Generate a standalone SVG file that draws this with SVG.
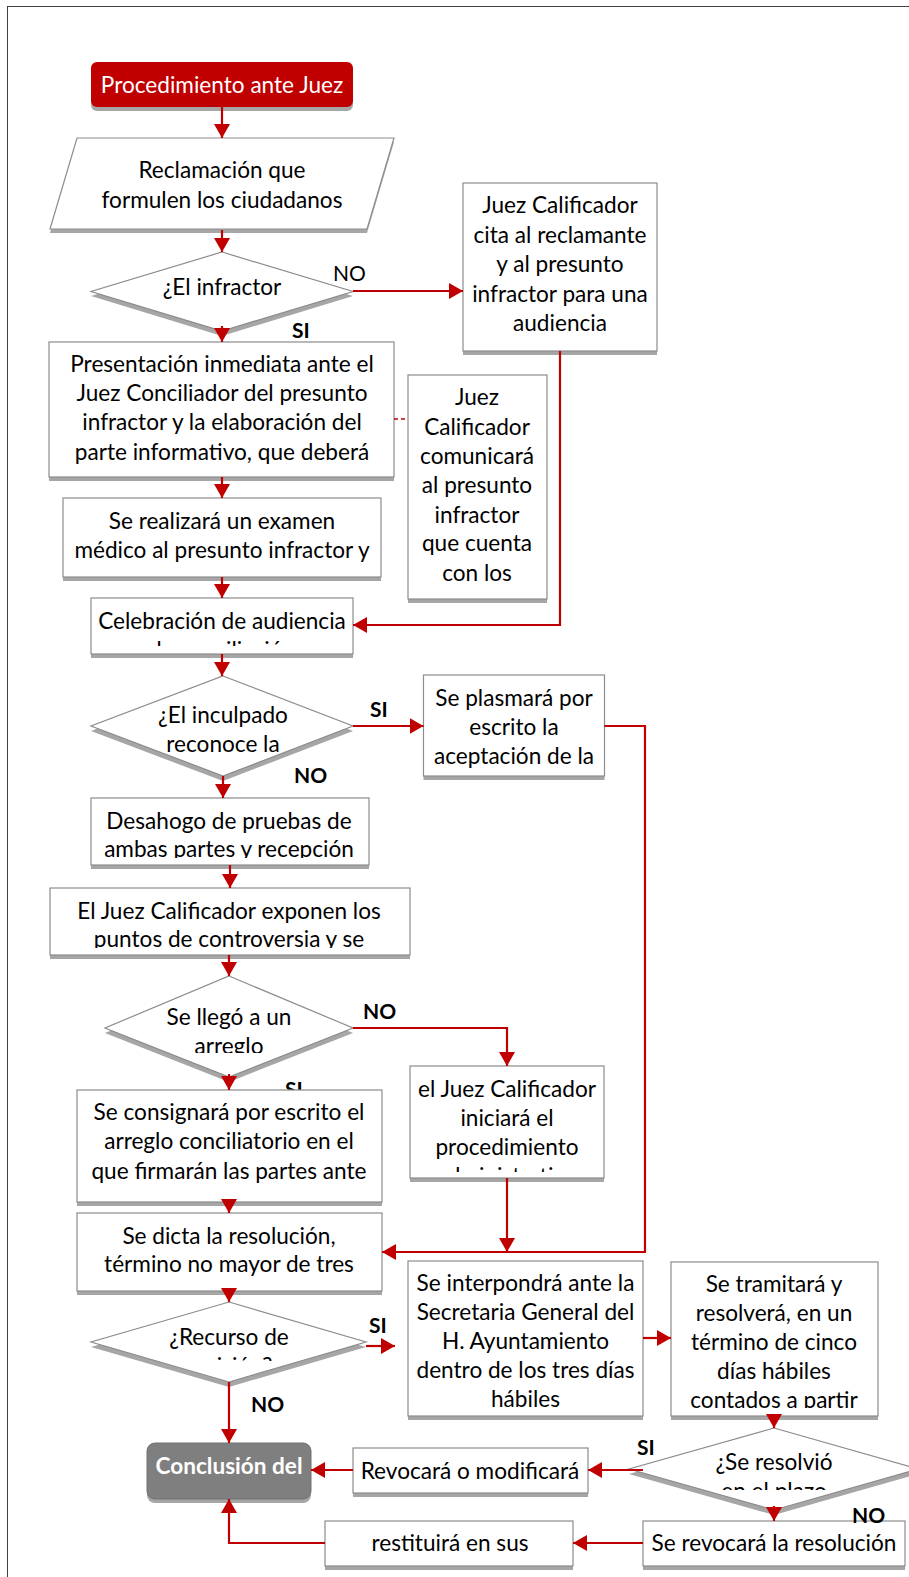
<svg xmlns="http://www.w3.org/2000/svg" width="909" height="1577" viewBox="0 0 909 1577">
  <style>
    .frame { fill: none; stroke: #404040; stroke-width: 1; }
    .shd { fill: #a6a6a6; }
    .box { fill: #ffffff; stroke: #8c8c8c; stroke-width: 1.2; }
    .t { font-family: Lato, "Liberation Sans", sans-serif; font-size: 22.6px; fill: #000; text-anchor: middle; }
    .tw { font-family: Lato, "Liberation Sans", sans-serif; font-size: 22.6px; fill: #ffffff; text-anchor: middle; }
    .lb { font-family: Lato, "Liberation Sans", sans-serif; font-size: 21px; font-weight: bold; fill: #000; }
    .lbn { font-family: Lato, "Liberation Sans", sans-serif; font-size: 21px; fill: #000; }
    .c { fill: none; stroke: #c00000; stroke-width: 2.2; marker-end: url(#ah); }
    .dash { fill: none; stroke: #c00000; stroke-width: 1.5; stroke-dasharray: 4 3; }
  </style>
  <defs>
    <marker id="ah" markerUnits="userSpaceOnUse" markerWidth="14" markerHeight="16" refX="14" refY="8" orient="auto">
      <path d="M0,0 L14,8 L0,16 z" fill="#c00000"/>
    </marker>
    <clipPath id="cpD2"><rect x="90" y="670" width="265" height="82"/></clipPath>
    <clipPath id="cpD3"><rect x="100" y="970" width="260" height="83"/></clipPath>
    <clipPath id="cpD4"><rect x="90" y="1300" width="280" height="61"/></clipPath>
    <clipPath id="cpD5"><rect x="628" y="1425" width="290" height="65"/></clipPath>
    <clipPath id="cpCel"><rect x="91" y="598" width="262" height="48"/></clipPath>
    <clipPath id="cpDes"><rect x="91" y="798" width="278" height="60"/></clipPath>
    <clipPath id="cpEJ"><rect x="50" y="888" width="360" height="60"/></clipPath>
    <clipPath id="cpIni"><rect x="410" y="1066" width="194" height="106"/></clipPath>
    <clipPath id="cpTra"><rect x="671" y="1262" width="207" height="146"/></clipPath>
    <clipPath id="cpSI3"><rect x="280" y="1070" width="40" height="20"/></clipPath>
  </defs>

  <!-- page frame -->
  <rect class="frame" x="7.5" y="6.5" width="930" height="1600"/>

  <!-- start -->
  <g id="start">
    <rect class="shd" x="91" y="66" width="262" height="45" rx="6"/>
    <rect x="91" y="62" width="262" height="45" rx="6" fill="#c00000"/>
    <text class="tw" x="222" y="93">Procedimiento ante Juez</text>
  </g>

  <g id="reclamacion">
    <polygon class="shd" points="77,142 394,142 367,233 50,233"/>
    <polygon class="box" points="77,138 394,138 367,229 50,229"/>
    <text class="t" x="222" y="178">Reclamación que</text>
    <text class="t" x="222" y="208">formulen los ciudadanos</text>
  </g>

  <g id="d-infractor">
    <polygon class="shd" points="222,257 353,296 222,336 91,296"/>
    <polygon class="box" points="222,252 353,291.5 222,331 91,291.5"/>
    <text class="t" x="222" y="295">¿El infractor</text>
  </g>

  <g id="cita">
    <rect class="shd" x="463" y="187" width="194" height="168"/>
    <rect class="box" x="463" y="183" width="194" height="168"/>
    <text class="t" x="560" y="213">Juez Calificador</text>
    <text class="t" x="560" y="242.5">cita al reclamante</text>
    <text class="t" x="560" y="272">y al presunto</text>
    <text class="t" x="560" y="301.5">infractor para una</text>
    <text class="t" x="560" y="331">audiencia</text>
  </g>

  <g id="presentacion">
    <rect class="shd" x="49" y="346" width="345" height="135"/>
    <rect class="box" x="49" y="342" width="345" height="135"/>
    <text class="t" x="222" y="371.5">Presentación inmediata ante el</text>
    <text class="t" x="222" y="401">Juez Conciliador del presunto</text>
    <text class="t" x="222" y="430">infractor y la elaboración del</text>
    <text class="t" x="222" y="459.5">parte informativo, que deberá</text>
  </g>

  <g id="comunicara">
    <rect class="shd" x="408" y="379" width="139" height="224"/>
    <rect class="box" x="408" y="375" width="139" height="224"/>
    <text class="t" x="477" y="405">Juez</text>
    <text class="t" x="477" y="434.5">Calificador</text>
    <text class="t" x="477" y="464">comunicará</text>
    <text class="t" x="477" y="493">al presunto</text>
    <text class="t" x="477" y="522.5">infractor</text>
    <text class="t" x="477" y="551">que cuenta</text>
    <text class="t" x="477" y="580.5">con los</text>
  </g>

  <g id="examen">
    <rect class="shd" x="63" y="502" width="318" height="79"/>
    <rect class="box" x="63" y="498" width="318" height="79"/>
    <text class="t" x="222" y="529">Se realizará un examen</text>
    <text class="t" x="222" y="557.5">médico al presunto infractor y</text>
  </g>

  <g id="celebracion">
    <rect class="shd" x="91" y="602" width="262" height="56"/>
    <rect class="box" x="91" y="598" width="262" height="56"/>
    <g clip-path="url(#cpCel)">
      <text class="t" x="222" y="628.5">Celebración de audiencia</text>
      <text class="t" x="222" y="657.5">de conciliación</text>
    </g>
  </g>

  <g id="d-inculpado">
    <polygon class="shd" points="223,681 353,731 223,781 91,731"/>
    <polygon class="box" points="223,676 353,726 223,776 91,726"/>
    <g clip-path="url(#cpD2)">
      <text class="t" x="223" y="722.5">¿El inculpado</text>
      <text class="t" x="223" y="751.5">reconoce la</text>
    </g>
  </g>

  <g id="plasmara">
    <rect class="shd" x="423.5" y="679" width="181" height="101"/>
    <rect class="box" x="423.5" y="675" width="181" height="101"/>
    <text class="t" x="514" y="706">Se plasmará por</text>
    <text class="t" x="514" y="735">escrito la</text>
    <text class="t" x="514" y="764">aceptación de la</text>
  </g>

  <g id="desahogo">
    <rect class="shd" x="91" y="802" width="278" height="67"/>
    <rect class="box" x="91" y="798" width="278" height="67"/>
    <g clip-path="url(#cpDes)">
      <text class="t" x="229" y="828.5">Desahogo de pruebas de</text>
      <text class="t" x="229" y="857">ambas partes y recepción</text>
    </g>
  </g>

  <g id="controversia">
    <rect class="shd" x="50" y="892" width="360" height="67"/>
    <rect class="box" x="50" y="888" width="360" height="67"/>
    <g clip-path="url(#cpEJ)">
      <text class="t" x="229" y="918.5">El Juez Calificador exponen los</text>
      <text class="t" x="229" y="947">puntos de controversia y se</text>
    </g>
  </g>

  <g id="d-arreglo">
    <polygon class="shd" points="229,981 353,1033 229,1082 105,1033"/>
    <polygon class="box" points="229,976 353,1028 229,1077 105,1028"/>
    <g clip-path="url(#cpD3)">
      <text class="t" x="229" y="1025">Se llegó a un</text>
      <text class="t" x="229" y="1053.5">arreglo</text>
    </g>
  </g>

  <g id="administrativo">
    <rect class="shd" x="410" y="1070" width="194" height="112"/>
    <rect class="box" x="410" y="1066" width="194" height="112"/>
    <g clip-path="url(#cpIni)">
      <text class="t" x="507" y="1097">el Juez Calificador</text>
      <text class="t" x="507" y="1126">iniciará el</text>
      <text class="t" x="507" y="1155">procedimiento</text>
      <text class="t" x="507" y="1184">administrativo</text>
    </g>
  </g>

  <!-- label partly hidden by the box below it -->
  <text class="lb" x="285" y="1097" clip-path="url(#cpSI3)">SI</text>

  <g id="consignara">
    <rect class="shd" x="77" y="1094" width="305" height="112"/>
    <rect class="box" x="77" y="1090" width="305" height="112"/>
    <text class="t" x="229" y="1120">Se consignará por escrito el</text>
    <text class="t" x="229" y="1149">arreglo conciliatorio en el</text>
    <text class="t" x="229" y="1178.5">que firmarán las partes ante</text>
  </g>

  <g id="resolucion">
    <rect class="shd" x="77" y="1217" width="305" height="78"/>
    <rect class="box" x="77" y="1213" width="305" height="78"/>
    <text class="t" x="229" y="1243.5">Se dicta la resolución,</text>
    <text class="t" x="229" y="1272">término no mayor de tres</text>
  </g>

  <g id="d-recurso">
    <polygon class="shd" points="229,1307 366,1347 229,1387 91,1347"/>
    <polygon class="box" points="229,1302 366,1342 229,1382 91,1342"/>
    <g clip-path="url(#cpD4)">
      <text class="t" x="229" y="1345">¿Recurso de</text>
      <text class="t" x="229" y="1374">revisión?</text>
    </g>
  </g>

  <g id="interpondra">
    <rect class="shd" x="408" y="1265" width="235" height="155"/>
    <rect class="box" x="408" y="1261" width="235" height="155"/>
    <text class="t" x="525.5" y="1291">Se interpondrá ante la</text>
    <text class="t" x="525.5" y="1320">Secretaria General del</text>
    <text class="t" x="525.5" y="1349">H. Ayuntamiento</text>
    <text class="t" x="525.5" y="1378">dentro de los tres días</text>
    <text class="t" x="525.5" y="1407">hábiles</text>
  </g>

  <g id="tramitara">
    <rect class="shd" x="671" y="1266" width="207" height="154"/>
    <rect class="box" x="671" y="1262" width="207" height="154"/>
    <g clip-path="url(#cpTra)">
      <text class="t" x="774" y="1291.5">Se tramitará y</text>
      <text class="t" x="774" y="1320.5">resolverá, en un</text>
      <text class="t" x="774" y="1349.5">término de cinco</text>
      <text class="t" x="774" y="1378.5">días hábiles</text>
      <text class="t" x="774" y="1407.5">contados a partir</text>
    </g>
  </g>

  <g id="d-plazo">
    <polygon class="shd" points="774,1433 918,1474 774,1515 629,1474"/>
    <polygon class="box" points="774,1428 918,1469 774,1510 629,1469"/>
    <g clip-path="url(#cpD5)">
      <text class="t" x="774" y="1470">¿Se resolvió</text>
      <text class="t" x="774" y="1499">en el plazo</text>
    </g>
  </g>

  <g id="revocara-modificara">
    <rect class="shd" x="353" y="1452" width="235" height="45"/>
    <rect class="box" x="353" y="1448" width="235" height="45"/>
    <text class="t" x="470" y="1478.5">Revocará o modificará</text>
  </g>

  <g id="conclusion">
    <rect class="shd" x="147" y="1447" width="164" height="56" rx="8"/>
    <rect x="147" y="1443" width="164" height="56" rx="8" fill="#7f7f7f" stroke="#737373" stroke-width="1"/>
    <text class="tw" x="229" y="1474" font-weight="bold">Conclusión del</text>
  </g>

  <g id="revocara-resolucion">
    <rect class="shd" x="643" y="1525" width="262" height="45"/>
    <rect class="box" x="643" y="1521" width="262" height="45"/>
    <text class="t" x="774" y="1550.5">Se revocará la resolución</text>
  </g>

  <g id="restituira">
    <rect class="shd" x="325" y="1525" width="248" height="45"/>
    <rect class="box" x="325" y="1521" width="248" height="45"/>
    <text class="t" x="450" y="1550.5">restituirá en sus</text>
  </g>

  <!-- connectors -->
  <g id="connectors">
    <path class="c" d="M222,107 V138"/>
    <path class="c" d="M222,230 V252"/>
    <path class="c" d="M222,326 V342"/>
    <path class="c" d="M353,291 H463"/>
    <path class="c" d="M560,351 V625 H353"/>
    <path class="dash" d="M394,419 H408"/>
    <path class="c" d="M222,477 V498"/>
    <path class="c" d="M222,577 V598"/>
    <path class="c" d="M222,654 V676"/>
    <path class="c" d="M353,726 H423.5"/>
    <path class="c" d="M604.5,726 H645 V1252 H382"/>
    <path class="c" d="M223,776 V798"/>
    <path class="c" d="M230,865 V888"/>
    <path class="c" d="M229,955 V976"/>
    <path class="c" d="M353,1028 H507 V1066"/>
    <path class="c" d="M229,1074 V1090"/>
    <path class="c" d="M507,1178 V1252"/>
    <path class="c" d="M229,1202 V1213"/>
    <path class="c" d="M229,1291 V1302"/>
    <path class="c" d="M366,1346 H395"/>
    <path class="c" d="M643,1338 H671"/>
    <path class="c" d="M774,1416 V1428"/>
    <path class="c" d="M643,1470 H588"/>
    <path class="c" d="M353,1470 H311"/>
    <path class="c" d="M229,1382 V1443"/>
    <path class="c" d="M774,1506 V1521"/>
    <path class="c" d="M643,1543 H573"/>
    <path class="c" d="M325,1543 H229 V1499"/>
  </g>

  <!-- branch labels -->
  <g id="labels">
    <text class="lbn" x="333" y="281">NO</text>
    <text class="lb" x="292" y="338">SI</text>
    <text class="lb" x="370" y="717">SI</text>
    <text class="lb" x="294" y="783">NO</text>
    <text class="lb" x="363" y="1019">NO</text>
    <text class="lb" x="369" y="1333">SI</text>
    <text class="lb" x="251" y="1412">NO</text>
    <text class="lb" x="637" y="1455">SI</text>
    <text class="lb" x="852" y="1523">NO</text>
  </g>
</svg>
